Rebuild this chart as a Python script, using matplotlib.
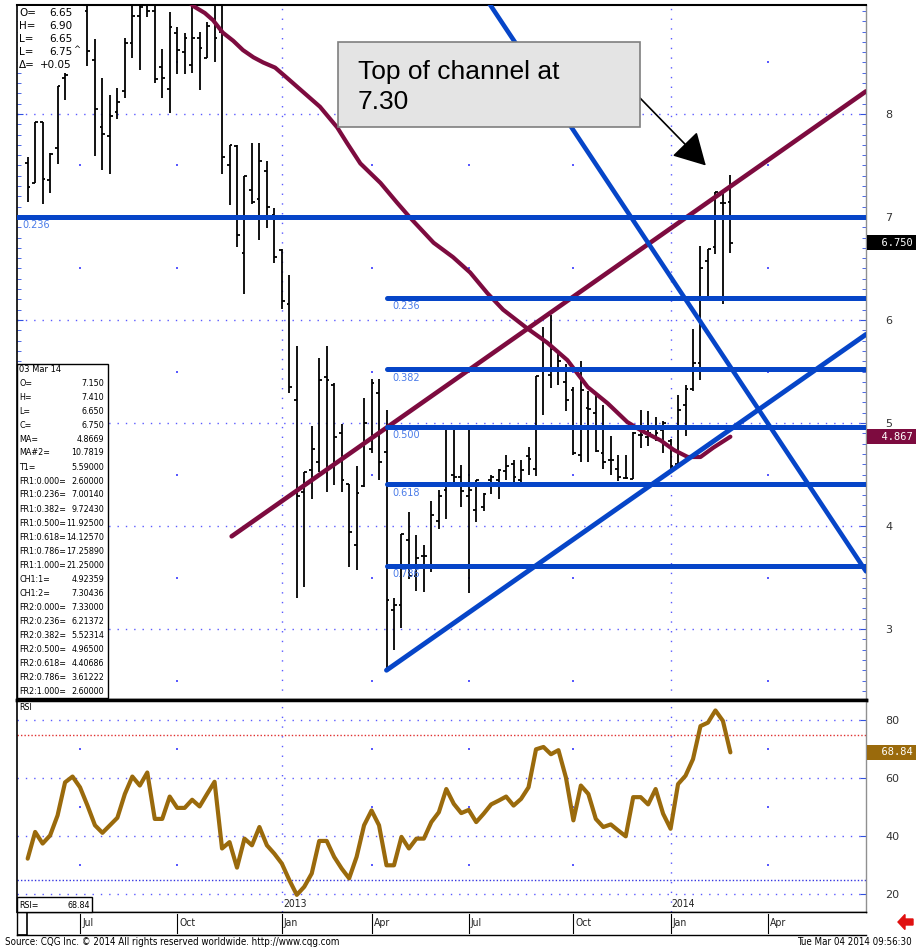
import numpy as np
import pandas as pd
import matplotlib
matplotlib.use("Agg")
import matplotlib.pyplot as plt
import matplotlib.dates as mdates
from matplotlib import font_manager
from matplotlib.font_manager import FontProperties
from matplotlib.patches import Rectangle, FancyArrow
from matplotlib.transforms import blended_transform_factory

# Barras semanales (lunes) del 14 May 2012 al 03 Mar 2014
semanas = pd.date_range("2012-05-14", "2014-03-03", freq="7D")

aperturas = [7.52, 7.33, 7.92, 7.36, 7.67, 8.35, 8.50, 8.70, 9.00, 8.52,
             7.87, 7.79, 8.02, 8.22, 8.69, 8.95, 9.10, 9.00, 8.46, 8.24,
             8.79, 8.60, 8.48, 8.74, 8.54, 8.90, 8.80, 7.50, 7.69, 6.65,
             7.26, 7.17, 7.45, 7.02, 6.68, 6.16, 5.22, 4.33, 4.54, 4.62,
             5.45, 5.37, 4.90, 4.41, 3.82, 4.39, 4.75, 5.29, 4.72, 3.18,
             3.23, 3.86, 3.51, 3.71, 3.62, 4.05, 4.35, 4.50, 4.48, 4.29,
             4.16, 4.18, 4.45, 4.45, 4.53, 4.60, 4.45, 4.68, 4.55, 5.52,
             5.47, 5.52, 5.40, 5.32, 4.69, 5.15, 5.10, 4.71, 4.64, 4.55,
             4.47, 4.46, 4.88, 4.86, 4.95, 4.93, 4.83, 4.60, 5.17, 5.33,
             5.58, 6.57, 6.71, 7.14, 7.15]
maximos = [7.58, 7.92, 7.92, 7.62, 8.27, 8.40, 8.80, 9.10, 9.30, 8.73,
           8.35, 8.18, 8.25, 8.74, 9.20, 9.30, 9.40, 9.20, 8.63, 8.99,
           8.84, 8.79, 9.15, 8.80, 8.89, 9.20, 9.20, 7.70, 7.70, 7.40,
           7.72, 7.72, 7.54, 7.09, 6.69, 6.44, 5.75, 4.52, 4.97, 5.63,
           5.75, 5.39, 4.99, 4.41, 4.58, 5.24, 5.43, 5.43, 5.13, 3.30,
           3.92, 4.14, 3.91, 3.82, 4.24, 4.35, 4.96, 4.96, 4.59, 4.96,
           4.45, 4.32, 4.50, 4.55, 4.69, 4.64, 4.64, 4.77, 5.46, 5.93,
           6.05, 5.69, 5.57, 5.35, 5.60, 5.31, 5.27, 5.17, 4.87, 4.69,
           4.69, 4.91, 5.13, 5.12, 5.06, 5.02, 4.84, 5.27, 5.37, 5.91,
           6.72, 6.69, 7.24, 7.24, 7.41]
minimos = [7.15, 7.33, 7.13, 7.23, 7.51, 8.14, 8.48, 8.60, 8.47, 7.59,
           7.46, 7.42, 7.95, 8.16, 8.54, 8.43, 8.94, 8.30, 8.16, 8.01,
           8.39, 8.39, 8.40, 8.23, 8.54, 8.50, 7.42, 7.12, 6.71, 6.25,
           7.13, 6.78, 6.89, 6.55, 6.11, 5.29, 3.30, 3.41, 4.26, 4.52,
           4.33, 4.40, 4.33, 3.60, 3.57, 4.38, 4.71, 4.45, 2.60, 2.80,
           3.01, 3.49, 3.37, 3.36, 3.55, 3.97, 4.07, 4.43, 4.18, 3.35,
           4.04, 4.15, 4.31, 4.26, 4.45, 4.42, 4.42, 4.50, 4.49, 5.08,
           5.34, 5.37, 5.12, 4.69, 4.62, 4.62, 4.72, 4.55, 4.50, 4.44,
           4.46, 4.46, 4.76, 4.78, 4.83, 4.71, 4.52, 4.58, 4.87, 5.31,
           5.42, 6.22, 6.64, 6.16, 6.65]
cierres = [7.29, 7.92, 7.37, 7.61, 8.27, 8.38, 8.72, 9.00, 8.61, 8.05,
           7.81, 7.98, 8.12, 8.69, 8.95, 9.04, 9.00, 8.34, 8.35, 8.84,
           8.62, 8.74, 8.74, 8.64, 8.85, 8.74, 7.58, 7.70, 6.83, 7.40,
           7.15, 7.54, 7.10, 6.61, 6.18, 5.35, 4.29, 4.52, 4.75, 5.42,
           5.42, 4.86, 4.45, 3.94, 4.32, 5.00, 5.39, 4.62, 3.28, 3.23,
           3.92, 3.51, 3.69, 3.71, 4.11, 4.29, 4.40, 4.48, 4.34, 4.35,
           4.45, 4.31, 4.48, 4.54, 4.58, 4.48, 4.54, 4.65, 5.46, 5.52,
           5.72, 5.60, 5.22, 4.71, 5.32, 5.14, 4.73, 4.62, 4.64, 4.48,
           4.47, 4.90, 4.88, 4.90, 4.90, 5.00, 4.58, 5.13, 5.33, 5.58,
           6.50, 6.69, 7.24, 7.14, 6.75]

rsi = [32.2, 41.4, 37.4, 40.2, 47.1, 58.5, 60.5, 56.8, 50.5, 43.7,
       41.1, 43.7, 46.3, 54.5, 60.5, 57.4, 61.9, 45.9, 45.9, 53.6,
       49.7, 49.7, 52.5, 50.2, 54.5, 58.7, 35.7, 37.9, 29.1, 39.1,
       36.8, 43.1, 36.8, 33.9, 30.5, 24.8, 19.7, 22.5, 27.1, 38.3,
       38.3, 32.8, 28.8, 25.4, 32.8, 43.7, 48.8, 43.7, 29.9, 29.9,
       39.7, 35.7, 39.1, 39.1, 44.8, 48.2, 56.2, 51.1, 47.9, 49.0,
       44.8, 47.7, 50.9, 52.2, 53.6, 50.5, 52.8, 56.8, 69.9, 70.7,
       68.2, 69.6, 60.2, 45.4, 57.4, 54.5, 45.9, 43.1, 44.0, 41.9,
       39.9, 53.4, 53.4, 50.9, 56.2, 47.7, 42.5, 57.9, 60.8, 66.5,
       77.9, 79.1, 83.3, 79.7, 68.84]

# media movil (en semanas desde la primera barra)
ma_semana = [21.0, 22.1, 23.7, 24.8, 26.1, 27.5, 28.8, 30.2, 31.5, 33.1,
             34.7, 36.9, 39.1, 41.4, 42.7, 44.5, 47.2, 49.4, 51.2, 54.3,
             56.9, 59.2, 61.5, 63.6, 66.8, 69.5, 72.2, 74.9, 77.6, 80.2,
             82.0, 84.7, 86.4, 88.3, 90.0, 91.7, 94.0]
ma_valor = [9.14, 9.05, 8.98, 8.91, 8.79, 8.71, 8.62, 8.55, 8.50, 8.45,
            8.35, 8.21, 8.07, 7.87, 7.72, 7.52, 7.33, 7.14, 6.99, 6.75,
            6.61, 6.46, 6.26, 6.10, 5.92, 5.78, 5.61, 5.35, 5.19, 5.01,
            4.93, 4.83, 4.74, 4.67, 4.67, 4.76, 4.867]

# lineas de tendencia (fecha, precio)
canal_sup_fechas = ["2012-11-21", "2014-07-08"]
canal_sup_precios = [3.90, 8.22]
canal_inf_fechas = ["2013-04-15", "2014-07-08"]
canal_inf_precios = [2.60, 5.86]
bajista_fechas = ["2013-07-07", "2014-07-08"]
bajista_precios = [9.28, 3.56]

# retrocesos de Fibonacci
fr1_etiquetas = ["0.236"]
fr1_valores = [7.0014]
fr2_etiquetas = ["0.236", "0.382", "0.500", "0.618", "0.786"]
fr2_valores = [6.21372, 5.52314, 4.96500, 4.40686, 3.61222]
fr2_inicio = "2013-04-15"

flecha_fecha = "2014-02-08"
flecha_precio = 7.50

info_sup = [("O=", "6.65"), ("H=", "6.90"), ("L=", "6.65"), ("L=", "6.75"), ("\u0394=", "+0.05")]
info_inf = [("O=", "7.150"), ("H=", "7.410"), ("L=", "6.650"), ("C=", "6.750"),
            ("MA=", "4.8669"), ("MA#2=", "10.7819"), ("T1=", "5.59000"),
            ("FR1:0.000=", "2.60000"), ("FR1:0.236=", "7.00140"), ("FR1:0.382=", "9.72430"),
            ("FR1:0.500=", "11.92500"), ("FR1:0.618=", "14.12570"), ("FR1:0.786=", "17.25890"),
            ("FR1:1.000=", "21.25000"), ("CH1:1=", "4.92359"), ("CH1:2=", "7.30436"),
            ("FR2:0.000=", "7.33000"), ("FR2:0.236=", "6.21372"), ("FR2:0.382=", "5.52314"),
            ("FR2:0.500=", "4.96500"), ("FR2:0.618=", "4.40686"), ("FR2:0.786=", "3.61222"),
            ("FR2:1.000=", "2.60000")]

AZUL = "#0645c8"
GRANATE = "#7d0b3f"
ORO = "#9a6a0c"
PUNTOS = "#5a5aff"
FIBO_TXT = "#4a7be8"

# fuente estrecha para los textos de CQG (la que haya instalada)
archivo_estrecho = None
escala = 0.77
for f in font_manager.fontManager.ttflist:
    nombre_archivo = f.fname.split("/")[-1]
    if nombre_archivo == "DejaVuSansCondensed.ttf":
        archivo_estrecho, escala = f.fname, 0.88
        break
    if nombre_archivo == "LiberationSansNarrow-Regular.ttf":
        archivo_estrecho, escala = f.fname, 1.0


def fuente(tam):
    if archivo_estrecho:
        return FontProperties(fname=archivo_estrecho, size=tam * escala)
    return FontProperties(family="DejaVu Sans", size=tam * escala * 0.95)


W, H = 916, 949
IZQ, DER = 17, 866
fig = plt.figure(figsize=(W / 100, H / 100), dpi=100)


def caja(arriba, abajo):
    return [IZQ / W, 1 - abajo / H, (DER - IZQ) / W, (abajo - arriba) / H]


def fp(px, py):
    return px / W, 1 - py / H


ax = fig.add_axes(caja(5, 700))
ax_rsi = fig.add_axes(caja(700, 912), sharex=ax)
ax_f = fig.add_axes(caja(912, 935), sharex=ax)

x = mdates.date2num(semanas)
xmin = mdates.date2num(pd.Timestamp("2012-05-04"))
xmax = mdates.date2num(pd.Timestamp("2014-07-08"))

# inicio de trimestre: primer lunes del mes
trimestres = []
for d in pd.date_range("2012-07-01", "2014-04-01", freq="QS-JAN"):
    trimestres.append(d + pd.Timedelta(days=(7 - d.weekday()) % 7))
xt = mdates.date2num(pd.DatetimeIndex(trimestres))
enero = [q for q, d in zip(xt, trimestres) if d.month == 1]
otros = [q for q, d in zip(xt, trimestres) if d.month != 1]

# ---- panel de precio ----
for p in range(3, 9):
    ax.axhline(p, color=PUNTOS, lw=1, ls=(0, (1, 5)), zorder=1)
for q in enero:
    ax.axvline(q, color=PUNTOS, lw=1, ls=(0, (1, 6)), zorder=1)
medios = np.arange(2.5, 9.0, 1.0)
for q in otros:
    ax.scatter([q] * len(medios), medios, s=2, marker="s", color=PUNTOS, lw=0, zorder=1)

ax.vlines(x, minimos, maximos, color="black", lw=1.3, zorder=2)
ax.hlines(aperturas, x - 2.6, x, color="black", lw=1.3, zorder=2)
ax.hlines(cierres, x, x + 2.6, color="black", lw=1.3, zorder=2)

xm = x[0] + 7 * np.array(ma_semana)
ax.plot(xm, ma_valor, color=GRANATE, lw=3.0, zorder=3,
        solid_capstyle="round", solid_joinstyle="round")
ax.plot(mdates.date2num(pd.to_datetime(canal_sup_fechas)), canal_sup_precios,
        color=GRANATE, lw=3.3, zorder=3, solid_capstyle="round")
ax.plot(mdates.date2num(pd.to_datetime(canal_inf_fechas)), canal_inf_precios,
        color=AZUL, lw=3.5, zorder=4, solid_capstyle="round")
ax.plot(mdates.date2num(pd.to_datetime(bajista_fechas)), bajista_precios,
        color=AZUL, lw=3.3, zorder=4, solid_capstyle="round")

for et, v in zip(fr1_etiquetas, fr1_valores):
    ax.plot([xmin, xmax], [v, v], color=AZUL, lw=3.6, zorder=4)
    ax.annotate(et, xy=(xmin, v), xytext=(4, -2.5), textcoords="offset points",
                va="top", ha="left", fontsize=7, color=FIBO_TXT, zorder=5)
x_fr2 = mdates.date2num(pd.Timestamp(fr2_inicio))
for et, v in zip(fr2_etiquetas, fr2_valores):
    ax.plot([x_fr2, xmax], [v, v], color=AZUL, lw=3.6, zorder=4, solid_capstyle="round")
    ax.annotate(et, xy=(x_fr2, v), xytext=(4, -2.5), textcoords="offset points",
                va="top", ha="left", fontsize=7, color=FIBO_TXT, zorder=5)

ax.set_xlim(xmin, xmax)
ax.set_ylim(2.311, 9.058)
ax.yaxis.tick_right()
ax.set_yticks(range(3, 9))
ax.set_yticks(np.arange(2.4, 9.05, 0.1), minor=True)
ax.tick_params(axis="y", which="both", direction="in", left=True, right=True,
               color="#3050e0", labelsize=8, labelcolor="#333333")
ax.tick_params(axis="y", which="major", length=4, pad=14)
ax.tick_params(axis="y", which="minor", length=3)
ax.tick_params(axis="x", which="both", bottom=False, top=False, labelbottom=False)
for lado, c, w in [("left", "black", 1.2), ("top", "black", 1.5),
                   ("right", "#909090", 1.0), ("bottom", "black", 2.5)]:
    ax.spines[lado].set_color(c)
    ax.spines[lado].set_linewidth(w)

tr = blended_transform_factory(ax.transAxes, ax.transData)
ax.text((913 - IZQ) / (DER - IZQ), cierres[-1], "  6.750", transform=tr, ha="right", va="center",
        color="white", fontsize=7.5, family="DejaVu Sans Mono", clip_on=False, zorder=6,
        bbox=dict(boxstyle="square,pad=0.25", fc="black", ec="none"))
ax.text((913 - IZQ) / (DER - IZQ), ma_valor[-1], "  4.867", transform=tr, ha="right", va="center",
        color="white", fontsize=7.5, family="DejaVu Sans Mono", clip_on=False, zorder=6,
        bbox=dict(boxstyle="square,pad=0.25", fc=GRANATE, ec="none"))

ax.annotate("", xy=(mdates.date2num(pd.Timestamp(flecha_fecha)), flecha_precio),
            xytext=(640, H - 98), textcoords="figure pixels",
            arrowprops=dict(arrowstyle="-|>,head_length=0.9,head_width=0.5", color="black",
                            lw=1.2, mutation_scale=22, shrinkA=0, shrinkB=0), zorder=6)

# ---- panel RSI ----
for v in (20, 40, 60, 80):
    ax_rsi.axhline(v, color=PUNTOS, lw=1, ls=(0, (1, 5)), zorder=1)
ax_rsi.axhline(75, color="#e03030", lw=1, ls=(0, (1, 1.5)), zorder=1)
ax_rsi.axhline(25, color="#3535e0", lw=1, ls=(0, (1, 1.5)), zorder=1)
for q in enero:
    ax_rsi.axvline(q, color=PUNTOS, lw=1, ls=(0, (1, 6)), zorder=1)
for q in otros:
    ax_rsi.scatter([q] * 3, [30, 50, 70], s=2, marker="s", color=PUNTOS, lw=0, zorder=1)
ax_rsi.plot(x, rsi, color=ORO, lw=3.0, zorder=3, solid_joinstyle="round", solid_capstyle="round")
ax_rsi.set_ylim(13.8, 86.9)
ax_rsi.yaxis.tick_right()
ax_rsi.set_yticks([20, 40, 60, 80])
ax_rsi.tick_params(axis="y", direction="in", length=4, pad=14, color="#3050e0",
                   labelsize=8, labelcolor="#333333")
ax_rsi.tick_params(axis="x", which="both", bottom=False, top=False, labelbottom=False)
for lado, c, w in [("left", "black", 1.2), ("top", "black", 2.5),
                   ("right", "#909090", 1.0), ("bottom", "black", 1.0)]:
    ax_rsi.spines[lado].set_color(c)
    ax_rsi.spines[lado].set_linewidth(w)
trr = blended_transform_factory(ax_rsi.transAxes, ax_rsi.transData)
ax_rsi.text((913 - IZQ) / (DER - IZQ), rsi[-1], "  68.84", transform=trr, ha="right", va="center",
            color="white", fontsize=7.5, family="DejaVu Sans Mono", clip_on=False, zorder=6,
            bbox=dict(boxstyle="square,pad=0.25", fc=ORO, ec="none"))
trb = blended_transform_factory(ax_rsi.transData, ax_rsi.transAxes)
for q, d in zip(xt, trimestres):
    if d.month == 1:
        ax_rsi.text(q + 1, 0.015, str(d.year), transform=trb, ha="left", va="bottom",
                    fontproperties=fuente(8.5), color="#222222")

# ---- franja de fechas ----
ax_f.set_ylim(0, 1)
ax_f.set_xticks([])
ax_f.set_yticks([])
meses = {1: "Jan", 4: "Apr", 7: "Jul", 10: "Oct"}
for q, d in zip(xt, trimestres):
    ax_f.axvline(q, ymin=0.08, ymax=0.92, color="black", lw=0.8)
    ax_f.text(q + 2, 0.5, meses[d.month], ha="left", va="center",
              fontproperties=fuente(8.5), color="#222222")
ax_f.add_patch(Rectangle((0, 0), 10 / (DER - IZQ), 1, transform=ax_f.transAxes,
                         fill=False, ec="black", lw=1.2))
for s in ax_f.spines.values():
    s.set_linewidth(1.0)
ax_f.spines["right"].set_visible(False)

# ---- cuadros de texto ----
fig.add_artist(Rectangle(fp(IZQ + 1, 72), 65 / W, 66 / H, transform=fig.transFigure,
                         fc="white", ec="none", zorder=2))
for k, (et, v) in enumerate(info_sup):
    yy = 13 + 13 * k
    fig.text(*fp(19, yy), et, fontsize=7.5, va="center", ha="left", zorder=3)
    fig.text(*fp(72, yy), v, fontsize=7.5, va="center", ha="right", zorder=3)
fig.text(*fp(73, 50), "^", fontsize=6, va="center", ha="left", zorder=3)

fig.add_artist(Rectangle(fp(IZQ, 698), 91 / W, 334 / H, transform=fig.transFigure,
                         fc="white", ec="black", lw=1.0, zorder=2))
fig.text(*fp(19, 369), "03 Mar 14", fontproperties=fuente(7.6), va="center", zorder=3)
for k, (et, v) in enumerate(info_inf):
    yy = 383 + 14 * k
    fig.text(*fp(19, yy), et, fontproperties=fuente(7.3), va="center", zorder=3)
    fig.text(*fp(104, yy), v, fontproperties=fuente(7.3), va="center", ha="right", zorder=3)

fig.text(*fp(19, 708), "RSI", fontproperties=fuente(7.3), va="center", zorder=3)
fig.add_artist(Rectangle(fp(IZQ, 912), 75 / W, 15 / H, transform=fig.transFigure,
                         fc="white", ec="black", lw=1.0, zorder=2))
fig.text(*fp(19, 905), "RSI=", fontproperties=fuente(7.3), va="center", zorder=3)
fig.text(*fp(90, 905), "68.84", fontproperties=fuente(7.3), va="center", ha="right", zorder=3)

# nota del canal
fig.add_artist(Rectangle(fp(338, 127), 302 / W, 85 / H, transform=fig.transFigure,
                         fc="#e4e4e4", ec="#7f7f7f", lw=1.2, zorder=4))
fig.text(*fp(358, 87), "Top of channel at\n7.30", fontsize=19, family="Liberation Sans",
         va="center", ha="left", linespacing=1.3, zorder=5)

# pie
fig.text(*fp(5, 942), "Source: CQG Inc. \u00a9 2014 All rights reserved worldwide. http://www.cqg.com",
         fontproperties=fuente(8), va="center", ha="left")
fig.text(*fp(912, 942), "Tue Mar 04 2014 09:56:30", fontproperties=fuente(8),
         va="center", ha="right")
fig.add_artist(FancyArrow(9.13, 0.27, -0.08, 0, width=0.06, head_width=0.15, head_length=0.07,
                          length_includes_head=False, color="#e01010", transform=fig.dpi_scale_trans))

fig.savefig("out.png", dpi=100)
